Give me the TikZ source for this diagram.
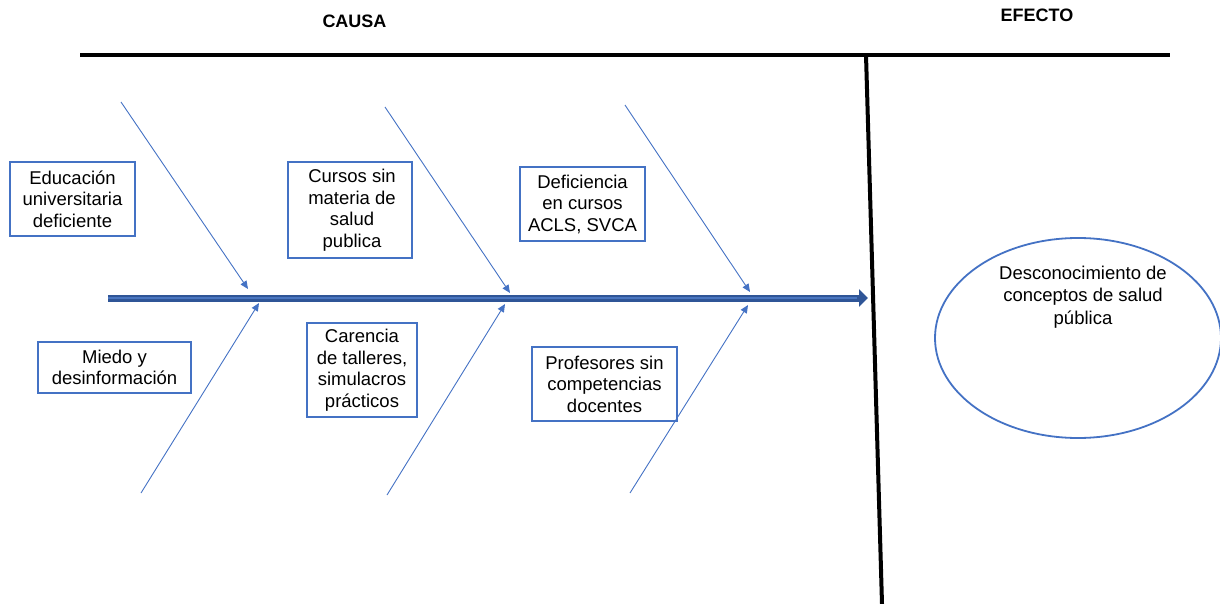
\documentclass[tikz,border=0pt]{standalone}
\usepackage{fontspec}
\setmainfont{Liberation Sans}
\usetikzlibrary{arrows.meta,shapes.geometric}
\definecolor{boxblue}{HTML}{4472C4}
\definecolor{spine}{HTML}{2F5597}
\definecolor{spinelight}{HTML}{4A76C0}
\begin{document}
\begin{tikzpicture}[x=1pt,y=-1pt,
  cause/.style={draw=boxblue, line width=1.6pt, align=center, inner sep=0pt,
                font=\fontsize{18.5}{21.5}\selectfont},
  bone/.style={draw=boxblue, line width=0.9pt, -{Triangle[length=8pt,width=7pt]}},
  heading/.style={font=\fontsize{18}{21}\selectfont\bfseries},
  rule/.style={draw=black, line cap=butt}]
\useasboundingbox (0,0) rectangle (1220,604);

% headings
\node[heading] (causa) at (354.5,21) {CAUSA};
\node[heading] (efectoh) at (1037,15) {EFECTO};

% frame lines
\coordinate (topL) at (80,55);
\coordinate (topR) at (1170,55);
\coordinate (divT) at (866,55);
\coordinate (divB) at (882,604);
\draw[rule, line width=3.5pt] (topL) -- (topR);
\draw[rule, line width=4pt] (divT) -- (divB);

% spine
\coordinate (tail) at (108,298);
\coordinate (head) at (868,298);
\coordinate (headbase) at (857,298);
\draw[spine, line width=7pt, -{Triangle[length=9pt,width=17pt]}] (tail) -- (head);
\draw[spinelight, line width=2pt] (tail) -- (headbase);

% upper bones
\coordinate (u1s) at (121,102);  \coordinate (u1e) at (248,289);
\coordinate (u2s) at (385,107);  \coordinate (u2e) at (510,293);
\coordinate (u3s) at (625,105);  \coordinate (u3e) at (750,292);
\draw[bone] (u1s) -- (u1e);
\draw[bone] (u2s) -- (u2e);
\draw[bone] (u3s) -- (u3e);

% lower bones
\coordinate (l1s) at (141,493);  \coordinate (l1e) at (259,303);
\coordinate (l2s) at (387,495);  \coordinate (l2e) at (505,304);
\coordinate (l3s) at (630,493);  \coordinate (l3e) at (748,305);
\draw[bone] (l1s) -- (l1e);
\draw[bone] (l2s) -- (l2e);
\draw[bone] (l3s) -- (l3e);

% causes
\node[cause, minimum width=125pt, minimum height=74pt] (edu) at (72.5,199)
  {Educación\\universitaria\\deficiente};
\node[cause, minimum width=124pt, minimum height=96pt] (cursos) at (350,210)
  {\hspace*{4pt}Cursos sin\\\hspace*{4pt}materia de\\\hspace*{4pt}salud\\\hspace*{4pt}publica};
\node[cause, minimum width=125pt, minimum height=74pt] (acls) at (582.5,204)
  {Deficiencia\\en cursos\\ACLS, SVCA};
\node[cause, minimum width=153pt, minimum height=51pt] (miedo) at (114.5,367.5)
  {Miedo y\\desinformación};
\node[cause, minimum width=110pt, minimum height=94pt] (talleres) at (362,370)
  {Carencia\\de talleres,\\simulacros\\prácticos};
\node[cause, minimum width=145pt, minimum height=74pt] (profes) at (604.5,384)
  {Profesores sin\\competencias\\docentes};

% effect
\node[draw=boxblue, line width=1.8pt, ellipse, minimum width=286pt,
      minimum height=200pt, inner sep=0pt] (efecto) at (1078,338) {};
\node[align=center, font=\fontsize{18.5}{22.5}\selectfont] (efectotxt) at (1083,297)
  {Desconocimiento de\\conceptos de salud\\pública};
\end{tikzpicture}
\end{document}
